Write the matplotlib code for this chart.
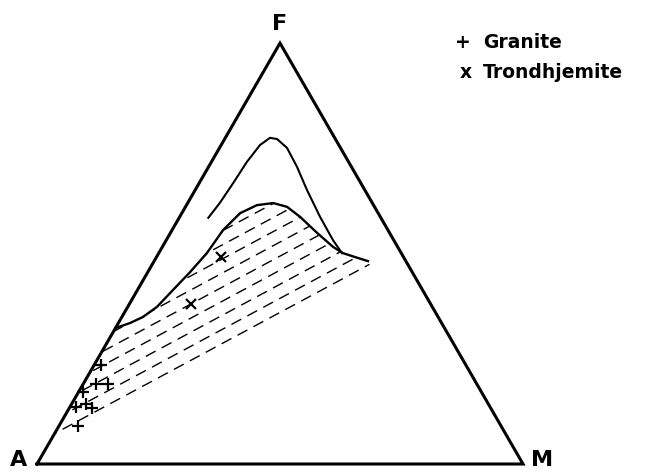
import numpy as np
import matplotlib
matplotlib.use('Agg')
import matplotlib.pyplot as plt
from matplotlib.patches import Polygon

# Ternary data, percent (F, M); A = 100 - F - M
upper_F = [58.5, 62.0, 66.8, 71.8, 75.8, 77.5, 77.2, 75.1, 70.6, 65.1, 58.7, 53.2, 50.1]
upper_M = [6.0, 6.6, 7.0, 7.3, 8.0, 9.2, 10.8, 13.9, 18.2, 23.0, 28.9, 34.3, 37.7]

lower_F = [32.3, 33.5, 34.9, 37.3, 41.3, 45.6, 50.1, 55.6, 59.6, 61.5, 62.0, 61.1,
           58.7, 54.9, 51.6, 50.1, 49.0, 48.2]
lower_M = [0.0, 2.4, 4.3, 6.0, 7.3, 8.7, 9.9, 10.5, 12.0, 14.5, 17.6, 20.9,
           24.8, 30.2, 35.1, 37.9, 41.4, 44.0]

# lower edge of the dashed field (right end, left end on A-F side)
field_base_F = [46.1, 4.8]
field_base_M = [45.9, 0.0]

granite_F = [23.5, 19.0, 18.9, 17.1, 13.5, 13.4, 14.3, 9.0]
granite_M = [1.4, 2.6, 5.1, 1.0, 1.3, 4.6, 3.0, 4.0]

trond_F = [49.1, 38.0]
trond_M = [13.4, 12.6]

H = np.sqrt(3) / 2


def to_xy(F, M):
    F = np.asarray(F) / 100.0
    M = np.asarray(M) / 100.0
    return M + 0.5 * F, H * F


fig = plt.figure(figsize=(6.57, 4.71), dpi=100)
ax = fig.add_axes([0, 0, 1, 1])
scale = 486.0
ax.set_xlim(-37 / scale, 620 / scale)
ax.set_ylim(-7 / scale, 464 / scale)
ax.axis('off')

# triangle A - M - F
tri_x = [0, 1, 0.5, 0]
tri_y = [0, 0, H, 0]
ax.plot(tri_x, tri_y, color='black', lw=2.2, solid_joinstyle='miter', zorder=3)

ux, uy = to_xy(upper_F, upper_M)
ax.plot(ux, uy, color='black', lw=1.5, zorder=3)
lx, ly = to_xy(lower_F, lower_M)
ax.plot(lx, ly, color='black', lw=1.7, zorder=3)

# dashed field
bx, by = to_xy(field_base_F, field_base_M)
poly_x = list(lx) + list(bx)
poly_y = list(ly) + list(by)
field = Polygon(np.column_stack([poly_x, poly_y]), closed=True, fill=False,
                edgecolor='none')
ax.add_patch(field)

d = np.array([bx[0] - bx[1], by[0] - by[1]])
d = d / np.hypot(*d)
n = np.array([-d[1], d[0]])
spacing = 12.4 / scale
for k in range(0, 16):
    p0 = np.array([bx[1], by[1]]) + n * (k + 0.5) * spacing
    seg = np.array([p0 - d * 0.3, p0 + d * 1.2])
    line, = ax.plot(seg[:, 0], seg[:, 1], color='black', lw=1.0,
                    linestyle=((k * 5) % 14, (8, 5)), zorder=2)
    line.set_clip_path(field)

gx, gy = to_xy(granite_F, granite_M)
ax.plot(gx, gy, linestyle='none', marker='+', color='black', ms=8.5, mew=1.6, zorder=4)
tx, ty = to_xy(trond_F, trond_M)
ax.plot(tx, ty, linestyle='none', marker='x', color='black', ms=6.5, mew=1.6, zorder=4)

# corner labels
lab = dict(fontsize=16, fontweight='bold', ha='center', va='center')
ax.annotate('A', (0, 0), xytext=(-13, 3), textcoords='offset points', **lab)
ax.annotate('M', (1, 0), xytext=(14, 3), textcoords='offset points', **lab)
ax.annotate('F', (0.5, H), xytext=(0, 14), textcoords='offset points', **lab)

# legend
leg = dict(fontsize=13.5, fontweight='bold', va='baseline')
fig.text(0.705, 0.898, '+', ha='center', **leg)
fig.text(0.735, 0.898, 'Granite', ha='left', **leg)
fig.text(0.709, 0.834, 'x', ha='center', **leg)
fig.text(0.735, 0.834, 'Trondhjemite', ha='left', **leg)

fig.savefig('out.png', dpi=100, facecolor='white')
